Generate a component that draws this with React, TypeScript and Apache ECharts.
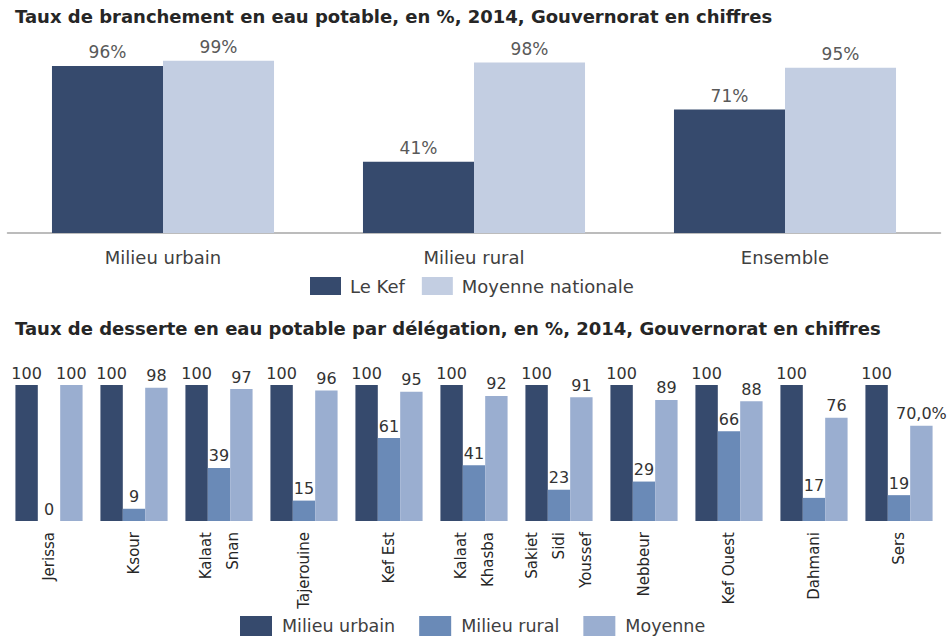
import React, { useEffect, useRef } from "react";
import * as echarts from "echarts";

// Top chart data
const topCategories = ["Milieu urbain", "Milieu rural", "Ensemble"];
const leKef = [96, 41, 71];
const moyenneNationale = [99, 98, 95];

// Bottom chart data
const delegations = [
  "Jerissa",
  "Ksour",
  "Kalaat\nSnan",
  "Tajerouine",
  "Kef Est",
  "Kalaat\nKhasba",
  "Sakiet\nSidi\nYoussef",
  "Nebbeur",
  "Kef Ouest",
  "Dahmani",
  "Sers",
];
const milieuUrbain = [100, 100, 100, 100, 100, 100, 100, 100, 100, 100, 100];
const milieuRural = [0, 9, 39, 15, 61, 41, 23, 29, 66, 17, 19];
const moyenne = [100, 98, 97, 96, 95, 92, 91, 89, 88, 76, 70];
const moyenneLabels = ["100", "98", "97", "96", "95", "92", "91", "89", "88", "76", "70,0%"];

const FONT = "'DejaVu Sans', Verdana, sans-serif";
const DARK = "#364a6d";
const LIGHT_TOP = "#c3cee2";
const RURAL = "#6a8ab7";
const MOY = "#9aaed0";

export default function App() {
  const ref = useRef<HTMLDivElement>(null);
  useEffect(() => {
    if (!ref.current) return;
    const chart = echarts.init(ref.current, null, { renderer: "svg" });
    chart.setOption({
      animation: false,
      backgroundColor: "#ffffff",
      textStyle: { fontFamily: FONT },
      title: [
        {
          text: "Taux de branchement en eau potable, en %, 2014, Gouvernorat en chiffres",
          left: 15,
          top: 7,
          padding: 0,
          textStyle: { fontFamily: FONT, fontSize: 18, fontWeight: "bold", color: "#262626" },
        },
        {
          text: "Taux de desserte en eau potable par délégation, en %, 2014, Gouvernorat en chiffres",
          left: 15,
          top: 319,
          padding: 0,
          textStyle: { fontFamily: FONT, fontSize: 18, fontWeight: "bold", color: "#262626" },
        },
      ],
      legend: [
        {
          data: ["Le Kef", "Moyenne nationale"],
          left: 310,
          top: 277,
          padding: 0,
          itemWidth: 31,
          itemHeight: 18,
          itemGap: 17,
          icon: "rect",
          textStyle: { fontFamily: FONT, fontSize: 18, color: "#404040", padding: [0, 0, 0, 4] },
        },
        {
          data: ["Milieu urbain", "Milieu rural", "Moyenne"],
          left: 240,
          top: 616,
          padding: 0,
          itemWidth: 32,
          itemHeight: 20,
          itemGap: 24,
          icon: "rect",
          textStyle: { fontFamily: FONT, fontSize: 17.5, color: "#404040", padding: [0, 0, 0, 5] },
        },
      ],
      grid: [
        { left: 7.5, right: 7.5, top: 59, bottom: 404 },
        { left: 6.5, right: 6.5, top: 385, bottom: 116 },
      ],
      xAxis: [
        {
          type: "category",
          gridIndex: 0,
          data: topCategories,
          axisLine: { show: true, lineStyle: { color: "#a6a6a6", width: 1.5 } },
          axisTick: { show: false },
          axisLabel: { fontFamily: FONT, fontSize: 18, color: "#404040", margin: 15 },
        },
        {
          type: "category",
          gridIndex: 1,
          data: delegations,
          axisLine: { show: false },
          axisTick: { show: false },
          axisLabel: {
            interval: 0,
            rotate: 90,
            fontFamily: FONT,
            fontSize: 15,
            lineHeight: 27,
            color: "#262626",
            margin: 11,
          },
        },
      ],
      yAxis: [
        { type: "value", gridIndex: 0, min: 0, max: 100, show: false, splitLine: { show: false } },
        { type: "value", gridIndex: 1, min: 0, max: 100, show: false, splitLine: { show: false } },
      ],
      series: [
        {
          name: "Le Kef",
          type: "bar",
          xAxisIndex: 0,
          yAxisIndex: 0,
          data: leKef,
          itemStyle: { color: DARK },
          barGap: "0%",
          barCategoryGap: "28.6%",
          label: { show: true, position: "top", distance: 5, formatter: "{c}%", fontFamily: FONT, fontSize: 17, color: "#595959" },
        },
        {
          name: "Moyenne nationale",
          type: "bar",
          xAxisIndex: 0,
          yAxisIndex: 0,
          data: moyenneNationale,
          itemStyle: { color: LIGHT_TOP },
          barGap: "0%",
          barCategoryGap: "28.6%",
          label: { show: true, position: "top", distance: 5, formatter: "{c}%", fontFamily: FONT, fontSize: 17, color: "#595959" },
        },
        {
          name: "Milieu urbain",
          type: "bar",
          xAxisIndex: 1,
          yAxisIndex: 1,
          data: milieuUrbain,
          itemStyle: { color: DARK },
          barGap: "0%",
          barCategoryGap: "21%",
          label: { show: true, position: "top", distance: 4, fontFamily: FONT, fontSize: 16, color: "#333333" },
        },
        {
          name: "Milieu rural",
          type: "bar",
          xAxisIndex: 1,
          yAxisIndex: 1,
          data: milieuRural,
          itemStyle: { color: RURAL },
          barGap: "0%",
          barCategoryGap: "21%",
          label: { show: true, position: "top", distance: 4, fontFamily: FONT, fontSize: 16, color: "#333333" },
        },
        {
          name: "Moyenne",
          type: "bar",
          xAxisIndex: 1,
          yAxisIndex: 1,
          data: moyenne,
          itemStyle: { color: MOY },
          barGap: "0%",
          barCategoryGap: "21%",
          label: {
            show: true,
            position: "top",
            distance: 4,
            fontFamily: FONT,
            fontSize: 16,
            color: "#333333",
            formatter: (p: any) => moyenneLabels[p.dataIndex],
          },
        },
      ],
    });
    return () => chart.dispose();
  }, []);
  return (
    <div
      ref={ref}
      style={{ position: "absolute", left: 0, top: 0, width: 948, height: 637 }}
    />
  );
}
